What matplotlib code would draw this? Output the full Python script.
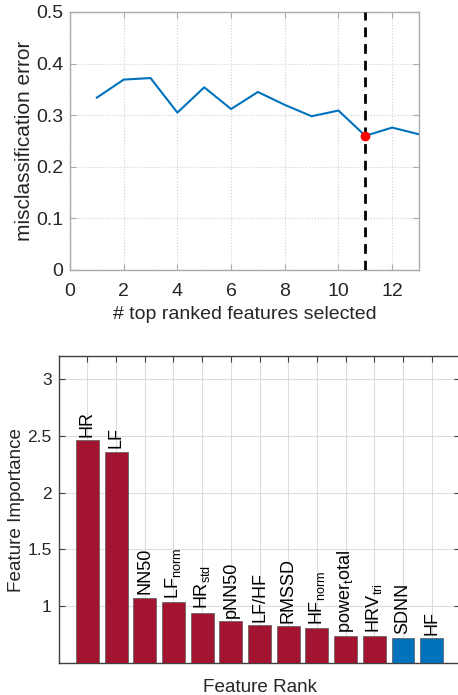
import matplotlib
matplotlib.use("Agg")
import matplotlib.pyplot as plt
import numpy as np

plt.rcParams['font.family'] = ['Liberation Sans', 'DejaVu Sans']
plt.rcParams['mathtext.fontset'] = 'custom'
plt.rcParams['mathtext.rm'] = 'Liberation Sans'
plt.rcParams['mathtext.it'] = 'Liberation Sans'
plt.rcParams['mathtext.default'] = 'regular'

# --- data ---
n_features = [1, 2, 3, 4, 5, 6, 7, 8, 9, 10, 11, 12, 13]
misclass_error = [0.334, 0.369, 0.372, 0.305, 0.354, 0.312, 0.345, 0.320, 0.298, 0.309, 0.260, 0.276, 0.263]
best_n = 11
best_err = 0.260

feature_labels = ["HR", "LF", "NN50", r"LF$_{norm}$", r"HR$_{std}$", "pNN50", "LF/HF",
                  "RMSSD", r"HF$_{norm}$", r"power$_{t}$otal", r"HRV$_{tri}$", "SDNN", "HF"]
importance = [2.459, 2.36, 1.076, 1.038, 0.945, 0.869, 0.837, 0.828, 0.807, 0.737, 0.737, 0.726, 0.72]
selected = [True] * 11 + [False] * 2

TXT = '#262626'
RED = '#A2142F'
BLUE = '#0072BD'

fig = plt.figure(figsize=(4.58, 6.95), dpi=100)

# --- top plot ---
ax1 = fig.add_axes([70/458, 1-270/695, 349/458, 258/695])
ax1.plot(n_features, misclass_error, color=BLUE, lw=1.5, zorder=3)
ax1.axvline(best_n, color='black', ls=(0, (3.5, 2.5)), lw=2, zorder=4)
ax1.plot([best_n], [best_err], 'o', color='red', ms=6, zorder=5)
ax1.set_xlim(0, 13)
ax1.set_ylim(0, 0.5)
ax1.set_xticks(range(0, 13, 2))
ax1.set_yticks(np.arange(0, 0.51, 0.1))
ax1.set_yticklabels(['0', '0.1', '0.2', '0.3', '0.4', '0.5'])
ax1.grid(True, color='#cfcfcf', ls=':', lw=0.8)
ax1.set_axisbelow(True)
ax1.tick_params(direction='in', top=True, right=True, labelsize=14, labelcolor=TXT,
                color='#aaaaaa', length=4)
ax1.tick_params(axis='x', pad=9)
ax1.tick_params(axis='y', pad=5)
ax1.set_xlabel('# top ranked features selected', fontsize=14, color=TXT, labelpad=5)
ax1.set_ylabel('misclassification error', fontsize=15, color=TXT, labelpad=1)
for s in ax1.spines.values():
    s.set_color('#aaaaaa')
    s.set_linewidth(1.0)

# --- bottom plot ---
ax2 = fig.add_axes([58.7/458, 1-663.3/695, 401.7/458, 307.3/695])
x = np.arange(1, len(importance) + 1)
colors = [RED if s else BLUE for s in selected]
ax2.bar(x, importance, width=0.8, color=colors, edgecolor='#666666', lw=0.6, zorder=3)
for xi, v, lab in zip(x, importance, feature_labels):
    ax2.text(xi, v + 0.03, lab, rotation=90, ha='center', va='bottom',
             fontsize=13, color='black', zorder=4)
ax2.set_xlim(0, 14)
ax2.set_ylim(0.5, 3.2)
ax2.set_xticks(x)
ax2.set_xticklabels([])
ax2.set_yticks([1, 1.5, 2, 2.5, 3])
ax2.set_yticklabels(['1', '1.5', '2', '2.5', '3'])
ax2.grid(True, color='#dcdcdc', ls='-', lw=0.8)
ax2.set_axisbelow(True)
ax2.tick_params(direction='in', top=True, right=True, labelsize=12.5, labelcolor=TXT,
                color='#404040', length=4, pad=5)
ax2.set_xlabel('Feature Rank', fontsize=13.6, color=TXT, labelpad=6)
ax2.set_ylabel('Feature Importance', fontsize=13.6, color=TXT, labelpad=2)
for s in ax2.spines.values():
    s.set_color('#404040')
    s.set_linewidth(1.0)

fig.savefig('out.png', dpi=100)
